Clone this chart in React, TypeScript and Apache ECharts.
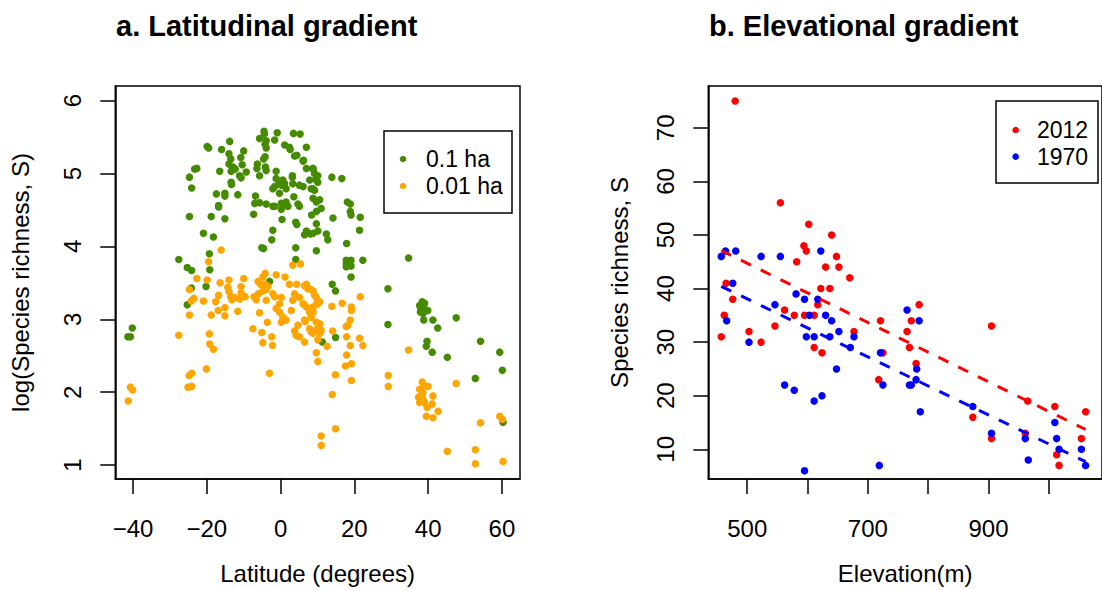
import React, { useEffect, useRef } from "react";
import * as echarts from "echarts";

const FONT = "'Liberation Sans', Arial, Helvetica, sans-serif";

// Tick values
const latTicks = [-40, -20, 0, 20, 40, 60];
const logTicks = [1, 2, 3, 4, 5, 6];
const elevTicks = [500, 600, 700, 800, 900, 1000];
const elevLabels = [500, 700, 900];
const richTicks = [10, 20, 30, 40, 50, 60, 70];

// Panel a: [latitude, log(S)]
const plot01ha: [number, number][] = [
  [-4.5, 5.58], [-4.4, 5.54], [-0.9, 5.56], [3.5, 5.55], [5.3, 5.54], [-5.7, 5.48], [-3.9, 5.45], [-1.6, 5.46],
  [-4.2, 5.4], [-3.9, 5.35], [1.1, 5.39], [2.4, 5.36], [2.6, 5.33], [7.0, 5.36], [-13.8, 5.44], [-19.9, 5.37],
  [-19.5, 5.35], [-16.0, 5.33], [-10.0, 5.31], [-14.0, 5.27], [-13.5, 5.2], [-10.8, 5.22], [-4.2, 5.23], [-4.6, 5.2],
  [3.8, 5.24], [4.4, 5.25], [6.1, 5.17], [-14.0, 5.13], [-12.9, 5.09], [-10.4, 5.12], [-6.3, 5.13], [-6.4, 5.07],
  [-4.1, 5.09], [-1.2, 5.03], [7.0, 5.07], [8.8, 5.07], [-22.7, 5.07], [-23.3, 5.06], [-24.7, 4.95], [-24.1, 4.8],
  [-16.5, 5.03], [-13.4, 5.03], [-13.0, 5.07], [-12.3, 5.06], [-9.3, 5.02], [-11.1, 4.97], [-10.7, 4.94], [-5.7, 4.97],
  [-3.9, 5.04], [3.2, 4.97], [3.2, 4.95], [-13.4, 4.88], [-13.3, 4.85], [-1.2, 4.93], [-0.3, 4.88], [0.6, 4.91],
  [0.2, 4.84], [-1.6, 4.82], [-2.1, 4.79], [1.1, 4.86], [1.5, 4.79], [3.3, 4.86], [5.1, 4.84], [6.1, 4.82],
  [7.9, 4.91], [8.8, 4.79], [9.7, 4.91], [10.1, 4.97], [9.2, 5.0], [-17.4, 4.72], [-15.1, 4.73], [-15.1, 4.69],
  [-11.6, 4.71], [-6.8, 4.69], [-0.3, 4.73], [3.6, 4.68], [-7.0, 4.59], [-5.7, 4.6], [-3.9, 4.58], [-2.1, 4.55],
  [-1.6, 4.55], [0.2, 4.59], [1.5, 4.61], [0.6, 4.57], [0.2, 4.51], [2.0, 4.55], [4.7, 4.58], [5.1, 4.55],
  [8.8, 4.66], [9.7, 4.61], [-16.8, 4.56], [-16.8, 4.54], [-7.3, 4.44], [0.4, 4.37], [4.1, 4.33], [4.4, 4.3],
  [8.4, 4.43], [9.7, 4.48], [-24.7, 4.41], [-18.8, 4.41], [-15.1, 4.38], [9.7, 4.31], [10.1, 4.21], [7.0, 4.21],
  [6.5, 4.16], [8.1, 4.17], [-2.1, 4.22], [-2.4, 4.09], [-20.9, 4.18], [-18.2, 4.13], [-5.1, 3.98], [-4.6, 3.97],
  [4.1, 3.98], [9.7, 3.94], [-19.3, 3.9], [-19.2, 3.68], [-27.6, 3.82], [-25.3, 3.71], [-24.1, 3.67], [4.1, 3.82],
  [-24.2, 3.43], [-20.2, 3.45], [-25.3, 3.2], [-3.0, 3.52], [-40.2, 2.88], [-41.4, 2.76], [-40.7, 2.76],
  [6.2, 5.18], [8.8, 5.06], [9.7, 4.93], [10.1, 4.88], [13.9, 4.95], [16.6, 4.93], [8.3, 4.79], [9.2, 4.77],
  [10.6, 4.64], [18.1, 4.61], [18.9, 4.58], [18.9, 4.48], [19.1, 4.43], [21.6, 4.4], [11.0, 4.52], [14.2, 4.39],
  [8.8, 4.18], [12.4, 4.17], [12.8, 4.09], [21.4, 4.22], [17.9, 4.04], [17.8, 3.81], [17.8, 3.76], [18.7, 3.79],
  [19.1, 3.81], [22.3, 3.81], [34.7, 3.84], [19.1, 3.58], [17.8, 3.72], [19.1, 3.73], [14.0, 3.48], [14.9, 3.39],
  [29.1, 3.42], [14.9, 2.75], [11.3, 2.69], [29.1, 2.93], [37.7, 3.19], [38.4, 3.24], [38.8, 3.17], [38.1, 3.12],
  [39.5, 3.12], [38.8, 2.99], [41.3, 2.99], [42.6, 2.88], [37.9, 3.17], [39.0, 3.22], [39.9, 3.12], [38.6, 3.08],
  [37.9, 3.1], [47.6, 3.02], [39.7, 2.7], [39.5, 2.63], [41.1, 2.55], [45.2, 2.48], [54.2, 2.7], [59.4, 2.55],
  [60.1, 2.3], [52.8, 2.19], [60.3, 1.59],
];

const plot001ha: [number, number][] = [
  [-19.5, 3.79], [-22.7, 3.56], [-19.9, 3.54], [-16.4, 3.5], [-14.0, 3.54], [-10.0, 3.56], [-24.7, 3.41], [-23.5, 3.29],
  [-24.2, 3.25], [-20.9, 3.25], [-17.6, 3.24], [-16.8, 3.33], [-14.3, 3.44], [-14.0, 3.38], [-13.5, 3.31], [-13.2, 3.27],
  [-12.5, 3.3], [-11.1, 3.28], [-10.7, 3.36], [-10.7, 3.45], [-9.6, 3.31], [-11.6, 3.11], [-15.1, 3.16], [-15.1, 3.05],
  [-16.9, 3.12], [-18.8, 3.06], [-24.7, 3.06],
  [-7.2, 3.31], [-6.6, 3.27], [-6.0, 3.35], [-6.1, 3.52], [-4.8, 3.58], [-4.2, 3.63], [-5.4, 3.48], [-4.2, 3.48],
  [-4.8, 3.39], [-3.9, 3.41], [-3.4, 3.45], [-1.2, 3.61], [1.2, 3.58], [2.4, 3.48], [4.4, 3.48], [3.3, 3.74],
  [5.4, 3.76], [7.0, 3.48], [7.4, 3.42], [8.8, 3.39], [9.7, 3.3], [10.1, 3.21], [-3.9, 3.26], [-2.1, 3.35],
  [-1.6, 3.31], [0.2, 3.3], [-0.3, 3.21], [-1.2, 3.15], [-0.3, 3.1], [0.6, 3.03], [0.2, 2.96], [1.5, 2.99],
  [2.9, 3.12], [3.3, 3.26], [3.8, 3.35], [5.1, 3.3], [6.2, 3.21], [7.0, 3.17], [7.9, 3.1], [8.8, 3.1],
  [8.3, 3.03], [6.7, 2.97], [4.7, 2.92], [3.8, 2.84], [4.2, 2.78], [5.1, 2.76], [6.5, 2.69], [7.9, 2.87],
  [8.3, 2.83], [9.7, 2.85], [9.7, 2.54], [10.1, 2.42], [-7.5, 2.87], [-5.1, 2.82], [-4.8, 2.68], [-2.4, 2.76],
  [-2.2, 2.64], [-3.6, 2.96], [-5.7, 3.09], [-3.0, 2.26],
  [-27.6, 2.78], [-19.3, 2.8], [-19.2, 2.66], [-18.2, 2.59], [-20.1, 2.32], [-24.8, 2.23], [-24.1, 2.26], [-25.1, 2.07],
  [-24.1, 2.08], [-40.7, 2.07], [-40.1, 2.03], [-41.3, 1.88], [-16.1, 3.95],
  [6.5, 3.46], [7.9, 3.42], [9.2, 3.33], [10.6, 3.24], [9.7, 3.21], [8.8, 3.17], [8.3, 3.06], [6.5, 2.99],
  [9.7, 2.96], [10.6, 2.94], [10.1, 2.87], [11.0, 2.85], [10.6, 2.81], [10.1, 2.72], [8.8, 2.81], [12.6, 2.63],
  [6.1, 3.21], [13.9, 3.18], [16.7, 3.22], [19.2, 3.17], [19.2, 3.12], [18.9, 2.99], [18.2, 2.92], [17.8, 2.9],
  [14.1, 2.84], [17.9, 2.76], [21.4, 2.74], [22.3, 2.64], [18.9, 2.64], [17.9, 2.51], [19.2, 2.39], [17.6, 2.36],
  [14.9, 2.24], [19.2, 2.16], [14.0, 1.97], [21.6, 3.31], [29.2, 2.23], [29.2, 2.08], [34.7, 2.58], [11.0, 1.4],
  [11.0, 1.27], [14.9, 1.5],
  [38.4, 2.14], [39.0, 2.09], [39.9, 2.08], [37.7, 2.04], [38.1, 1.95], [37.4, 1.93], [38.6, 1.9], [39.0, 1.86],
  [39.7, 1.79], [39.5, 1.67], [41.3, 1.95], [41.1, 1.84], [41.3, 1.65], [42.7, 1.74], [37.7, 1.86], [38.6, 1.99],
  [47.6, 2.12], [54.2, 1.58], [45.2, 1.19], [52.8, 1.21], [52.8, 1.02], [59.4, 1.67], [60.1, 1.63], [60.3, 1.05],
];

// Panel b: [elevation, species richness]
const rich2012: [number, number][] = [
  [480, 75], [555, 56], [602, 52], [594, 48], [598, 47], [640, 50], [648, 46], [630, 44], [652, 44], [582, 45],
  [670, 42], [622, 40], [637, 40], [465, 41], [476, 38], [462, 35], [457, 31], [503, 32], [523, 30], [546, 33],
  [562, 36], [578, 35], [595, 35], [611, 35], [617, 37], [611, 29], [624, 28], [677, 32], [785, 37], [721, 34],
  [772, 34], [765, 32], [769, 29], [725, 28], [780, 26], [718, 23], [905, 33], [874, 16], [905, 12], [965, 19],
  [961, 13], [1010, 18], [1013, 9], [1017, 7], [1061, 17], [1054, 12],
];
const rich1970: [number, number][] = [
  [457, 46], [464, 47], [481, 47], [523, 46], [555, 46], [622, 47], [476, 41], [466, 34], [503, 30], [546, 37],
  [581, 39], [595, 38], [603, 35], [598, 31], [611, 31], [617, 38], [630, 35], [640, 34], [637, 31], [652, 32],
  [671, 29], [677, 31], [648, 25], [562, 22], [578, 21], [611, 19], [624, 20], [595, 6], [765, 36], [785, 34],
  [721, 28], [781, 25], [780, 23], [772, 22], [769, 22], [725, 22], [787, 17], [719, 7], [874, 18], [905, 13],
  [961, 12], [966, 8], [1010, 15], [1013, 12], [1017, 10], [1054, 10], [1061, 7],
];

// Fitted lines (end points)
const fitX = [457, 1061];
const fit2012 = [47.1, 13.7];
const fit1970 = [40.4, 7.7];

const GREEN = "#458B00";
const ORANGE = "#FFA500";
const RED = "#FF0000";
const BLUE = "#0000FF";

export default function App() {
  const ref = useRef<HTMLDivElement>(null);
  useEffect(() => {
    if (!ref.current) return;
    const chart = echarts.init(ref.current, undefined, { renderer: "svg" });
    const axisCommon = {
      axisLine: { show: true, onZero: false, lineStyle: { color: "#000", width: 1.5 } },
      axisTick: { show: true, inside: false, length: 15, lineStyle: { color: "#000", width: 1.5 } },
      splitLine: { show: false },
      nameTextStyle: { fontSize: 24, color: "#000", fontFamily: FONT },
    };
    const labelStyle = { fontSize: 24, color: "#000", fontFamily: FONT };
    const ptSize = 7.5;
    const option: any = {
      animation: false,
      backgroundColor: "#fff",
      title: [
        { text: "a. Latitudinal gradient", left: 116, top: 11, padding: 0,
          textStyle: { fontSize: 29, fontWeight: "bold", color: "#000", fontFamily: FONT } },
        { text: "b. Elevational gradient", left: 709, top: 11, padding: 0,
          textStyle: { fontSize: 29, fontWeight: "bold", color: "#000", fontFamily: FONT } },
      ],
      grid: [
        { left: 115.3, top: 86, width: 404.7, height: 398, show: true, borderColor: "#000", borderWidth: 1.5, backgroundColor: "transparent" },
        { left: 708.3, top: 86, width: 404.7, height: 398, show: true, borderColor: "#000", borderWidth: 1.5, backgroundColor: "transparent" },
      ],
      xAxis: [
        {
          ...axisCommon, type: "value", gridIndex: 0, min: -44.8, max: 64.9,
          name: "Latitude (degrees)", nameLocation: "middle", nameGap: 82,
          axisTick: { ...axisCommon.axisTick, customValues: latTicks },
          axisLabel: { ...labelStyle, margin: 37, customValues: latTicks, formatter: (v: number) => (v < 0 ? "\u2212" + Math.abs(v) : String(v)) },
        },
        {
          ...axisCommon, type: "value", gridIndex: 1, min: 435.5, max: 1088.2,
          name: "Elevation(m)", nameLocation: "middle", nameGap: 82,
          axisTick: { ...axisCommon.axisTick, customValues: elevTicks },
          axisLabel: { ...labelStyle, margin: 37, customValues: elevLabels },
        },
      ],
      yAxis: [
        {
          ...axisCommon, type: "value", gridIndex: 0, min: 0.81, max: 6.2,
          name: "log(Species richness, S)", nameLocation: "middle", nameGap: 83,
          axisTick: { ...axisCommon.axisTick, customValues: logTicks },
          axisLabel: { ...labelStyle, margin: 31, rotate: 90, customValues: logTicks },
        },
        {
          ...axisCommon, type: "value", gridIndex: 1, min: 4.46, max: 77.8,
          name: "Species richness, S", nameLocation: "middle", nameGap: 77,
          axisTick: { ...axisCommon.axisTick, customValues: richTicks },
          axisLabel: { ...labelStyle, margin: 31, rotate: 90, customValues: richTicks },
        },
      ],
      series: [
        { name: "0.1 ha", type: "scatter", xAxisIndex: 0, yAxisIndex: 0, data: plot01ha, symbolSize: ptSize, itemStyle: { color: GREEN, opacity: 1 } },
        { name: "0.01 ha", type: "scatter", xAxisIndex: 0, yAxisIndex: 0, data: plot001ha, symbolSize: ptSize, itemStyle: { color: ORANGE, opacity: 1 } },
        { name: "2012", type: "scatter", xAxisIndex: 1, yAxisIndex: 1, data: rich2012, symbolSize: ptSize, itemStyle: { color: RED, opacity: 1 } },
        { name: "1970", type: "scatter", xAxisIndex: 1, yAxisIndex: 1, data: rich1970, symbolSize: ptSize, itemStyle: { color: BLUE, opacity: 1 } },
        { name: "fit 2012", type: "line", xAxisIndex: 1, yAxisIndex: 1, data: fitX.map((x, i) => [x, fit2012[i]]),
          showSymbol: false, symbol: "none", lineStyle: { color: RED, width: 3, type: [11, 11] } },
        { name: "fit 1970", type: "line", xAxisIndex: 1, yAxisIndex: 1, data: fitX.map((x, i) => [x, fit1970[i]]),
          showSymbol: false, symbol: "none", lineStyle: { color: BLUE, width: 3, type: [11, 11] } },
      ],
      graphic: [
        { type: "rect", shape: { x: 384, y: 131, width: 128, height: 82 }, style: { fill: "#fff", stroke: "#000", lineWidth: 1.5 }, z: 10 },
        { type: "circle", shape: { cx: 403, cy: 159, r: 3.3 }, style: { fill: GREEN }, z: 11 },
        { type: "circle", shape: { cx: 403, cy: 186, r: 3.3 }, style: { fill: ORANGE }, z: 11 },
        { type: "text", x: 426, y: 159, style: { text: "0.1 ha", font: `23px ${FONT}`, fill: "#000", textVerticalAlign: "middle", verticalAlign: "middle" }, z: 11 },
        { type: "text", x: 426, y: 186, style: { text: "0.01 ha", font: `23px ${FONT}`, fill: "#000", textVerticalAlign: "middle", verticalAlign: "middle" }, z: 11 },
        { type: "rect", shape: { x: 996, y: 101, width: 102, height: 82 }, style: { fill: "#fff", stroke: "#000", lineWidth: 1.5 }, z: 10 },
        { type: "circle", shape: { cx: 1015.7, cy: 130, r: 3.3 }, style: { fill: RED }, z: 11 },
        { type: "circle", shape: { cx: 1015.7, cy: 156.7, r: 3.3 }, style: { fill: BLUE }, z: 11 },
        { type: "text", x: 1037, y: 130, style: { text: "2012", font: `23px ${FONT}`, fill: "#000", textVerticalAlign: "middle", verticalAlign: "middle" }, z: 11 },
        { type: "text", x: 1037, y: 157, style: { text: "1970", font: `23px ${FONT}`, fill: "#000", textVerticalAlign: "middle", verticalAlign: "middle" }, z: 11 },
      ],
    };
    chart.setOption(option);
    return () => chart.dispose();
  }, []);
  return <div ref={ref} style={{ position: "absolute", left: 0, top: 0, width: 1102, height: 590 }} />;
}
